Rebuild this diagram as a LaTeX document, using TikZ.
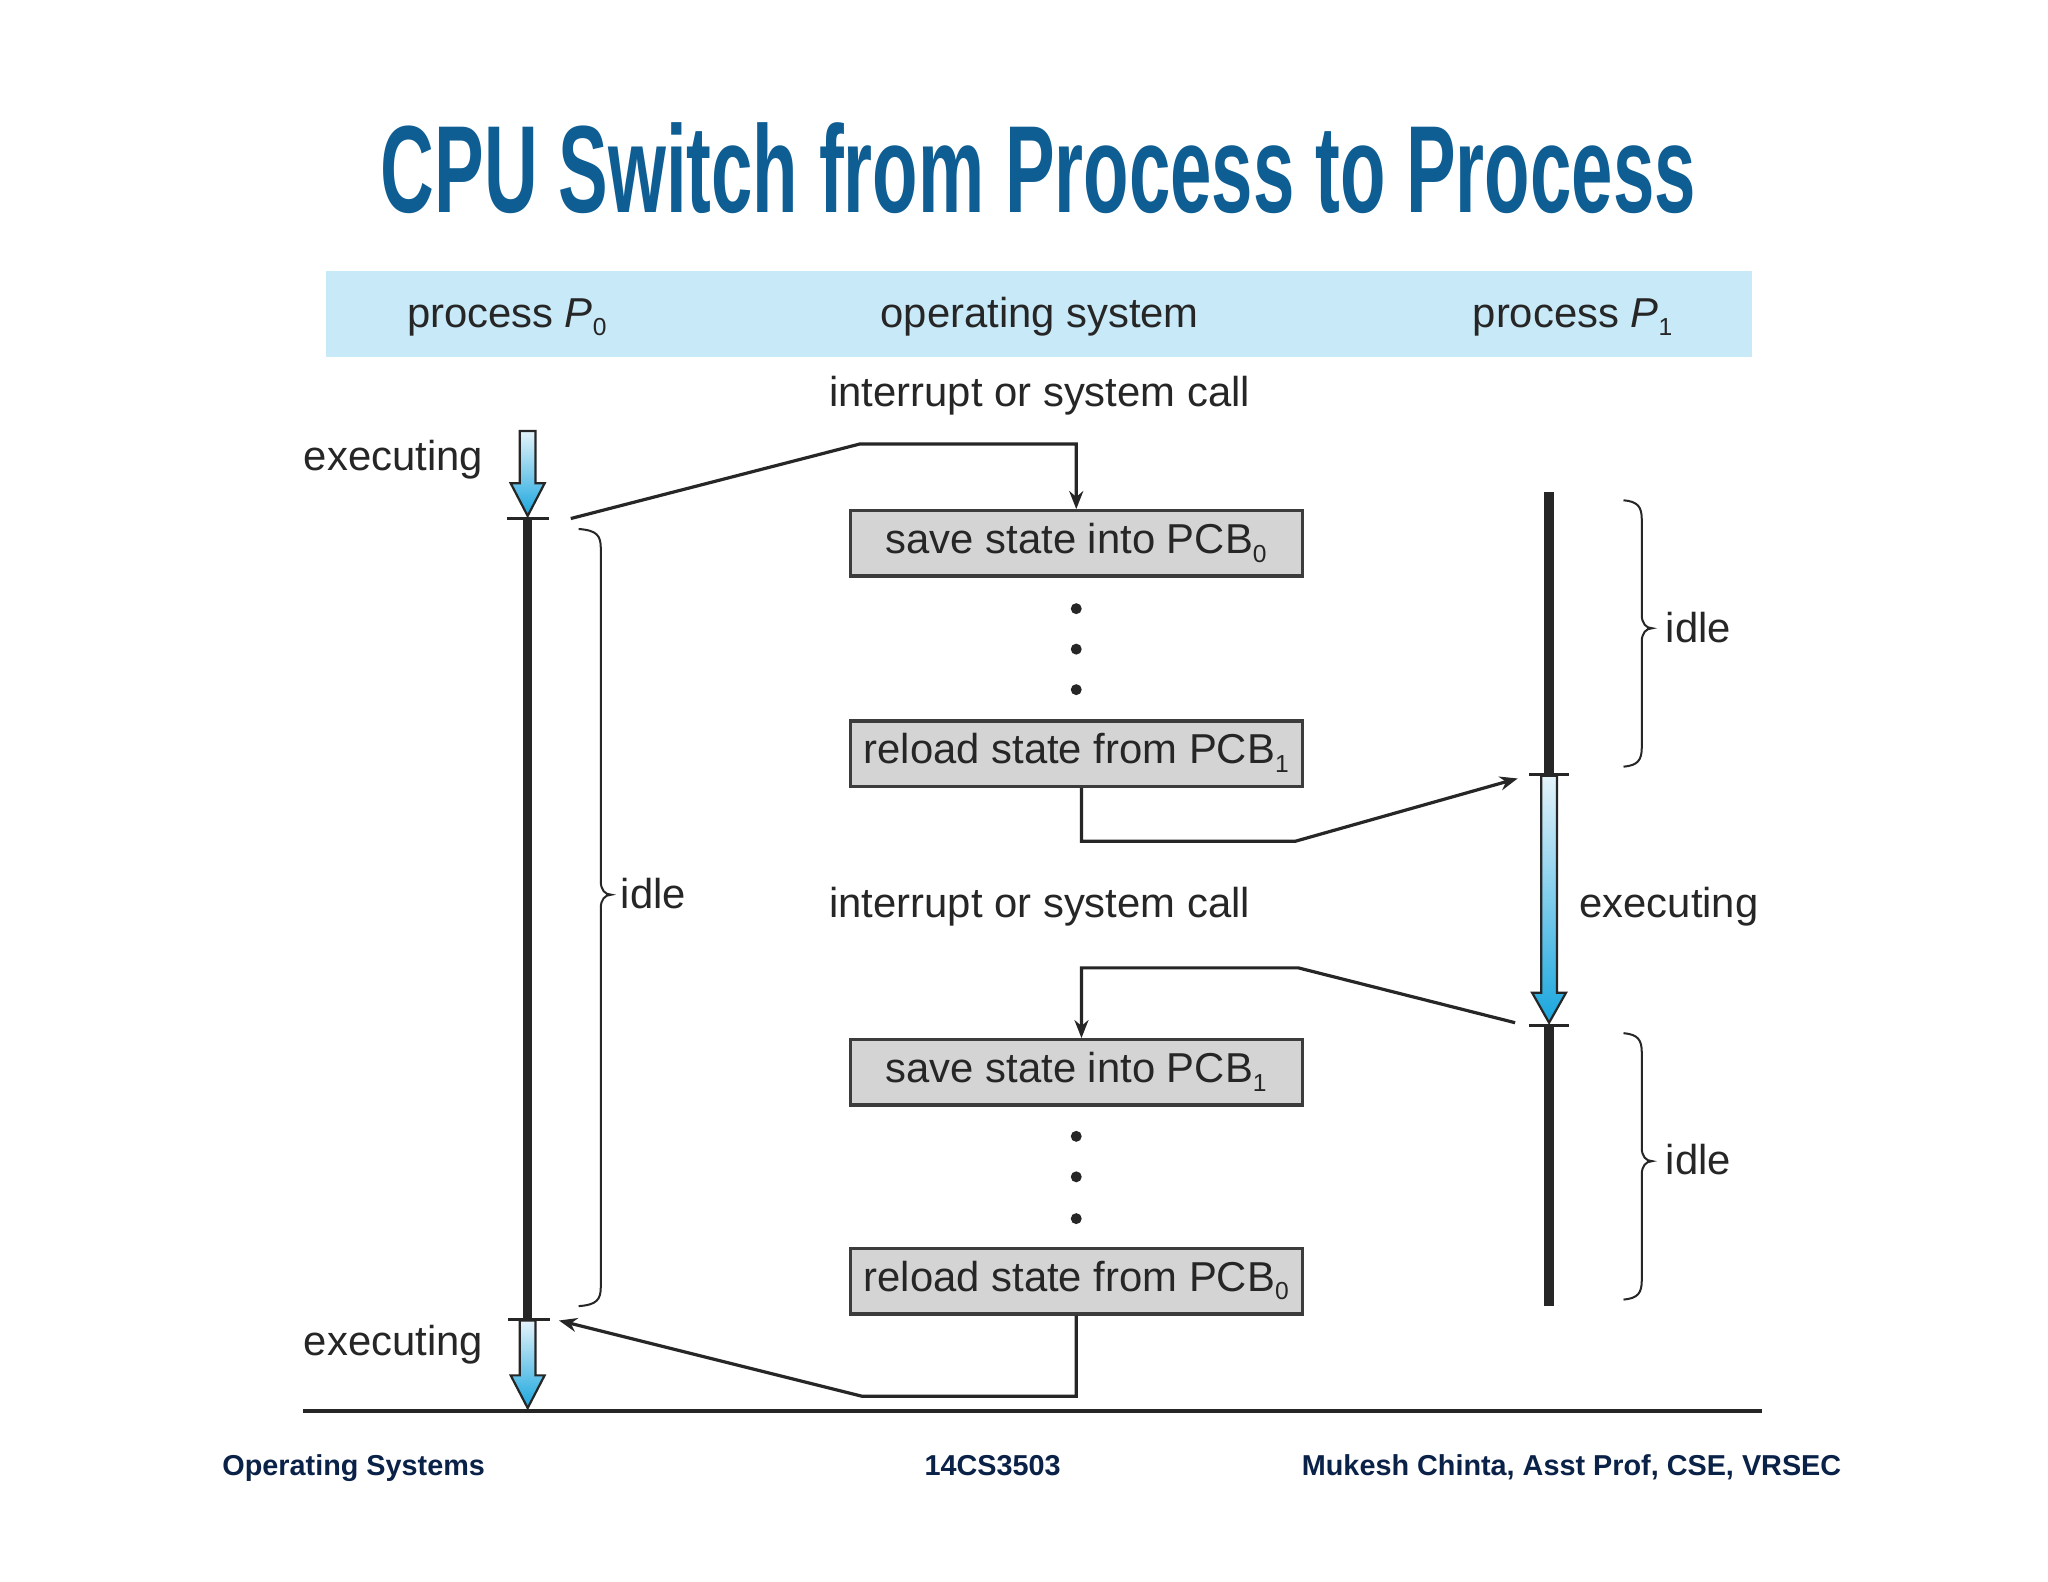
\documentclass[tikz,border=0pt]{standalone}
\usepackage{fontspec}
\setmainfont{Liberation Sans}
\newfontfamily\titlefont[UprightFont={* Bold},FakeStretch=0.6]{Liberation Sans}
\usetikzlibrary{arrows.meta,calc}
\definecolor{titleblue}{HTML}{0E5E93}
\definecolor{band}{HTML}{C8E9F7}
\definecolor{navy}{HTML}{0B2248}
\definecolor{ink}{HTML}{262626}
\definecolor{boxfill}{HTML}{D4D4D4}
\definecolor{boxedge}{HTML}{3C3C3C}
\definecolor{exectop}{HTML}{E4F3FA}
\definecolor{execbot}{HTML}{19A6DE}
\newcommand\sbs[1]{\raisebox{-0.2em}{\fontsize{12.3}{12.3}\selectfont #1}}
\begin{document}
\begin{tikzpicture}[x=0.653pt,y=-0.653pt,
  lbl/.style={text=ink,font=\fontsize{20.9}{25}\selectfont,inner sep=0pt,text height=1.38em,text depth=0pt},
  boxnode/.style={lbl,text height=1.03em,draw=boxedge,fill=boxfill,line width=1.6pt,minimum width=225.9pt,minimum height=32.65pt},
  foot/.style={text=navy,font=\bfseries\fontsize{14.4}{17}\selectfont,inner sep=0pt},
  conn/.style={line width=1.6pt,draw=ink,line join=miter},
  tipped/.style={conn,-{Stealth[length=9pt,width=7pt]}},
  timeline/.style={line width=4.6pt,draw=ink},
  tickline/.style={line width=1.3pt,draw=ink},
  execshape/.style={top color=exectop,bottom color=execbot,draw=ink,line width=1.1pt,line join=miter},
  bracepath/.style={line width=1pt,draw=ink}]

\useasboundingbox[fill=white] (0,0) rectangle (1568,1211);

% title
\node[font=\titlefont\fontsize{62}{70}\selectfont,text=titleblue,anchor=base,inner sep=0pt] (title) at (795,163) {CPU Switch from Process to Process};

% header band
\node[fill=band,minimum width=713.1pt,minimum height=43.1pt,inner sep=0pt,anchor=north west] (band) at (249,207) {};
\node[lbl] (hp0) at (388,240) {process {\itshape P}\sbs{0}};
\node[lbl] (hos) at (796,240) {operating system};
\node[lbl] (hp1) at (1204,240) {process {\itshape P}\sbs{1}};

% interrupt labels
\node[lbl] (int1) at (796,301) {interrupt or system call};
\node[lbl] (int2) at (796,692) {interrupt or system call};

% boxes
\node[boxnode] (b1) at (824,416) {save state into PCB\sbs{0}};
\node[boxnode] (b2) at (824,577) {reload state from PCB\sbs{1}};
\node[boxnode] (b3) at (824,821) {save state into PCB\sbs{1}};
\node[boxnode] (b4) at (824,981) {reload state from PCB\sbs{0}};

% dots
\foreach \yy in {466,497,528,870,901,933} \fill[ink] (824,\yy) circle[radius=4.2];

% P0 timeline
\shade[execshape] (398,330) -- (410,330) -- (410,370) -- (417,370) -- (404,395) -- (391,370) -- (398,370) -- cycle;
\draw[tickline] (388,397) -- (420,397);
\draw[timeline] (404,397) -- (404,1010);
\draw[tickline] (389,1010) -- (421,1010);
\shade[execshape] (398,1011) -- (410,1011) -- (410,1053) -- (417,1053) -- (404,1078) -- (391,1053) -- (398,1053) -- cycle;
\node[lbl,anchor=east] (ex0a) at (370,350) {executing};
\node[lbl,anchor=east] (ex0b) at (370,1027) {executing};

% P1 timeline
\draw[timeline] (1186,377) -- (1186,593);
\draw[tickline] (1171,593) -- (1201,593);
\shade[execshape] (1180,594) -- (1192,594) -- (1192,760) -- (1199,760) -- (1186,783) -- (1173,760) -- (1180,760) -- cycle;
\draw[tickline] (1171,785) -- (1201,785);
\draw[timeline] (1186,785) -- (1186,1000);
\node[lbl,anchor=west] (ex1) at (1209,692) {executing};

% braces
\foreach \xe/\xs/\yt/\ym/\yb in {443/460/405/685/1000, 1243/1257/383/481/587, 1243/1257/791/889/995}
  \draw[bracepath] (\xe,\yt) .. controls (\xs-3,\yt+1) and (\xs,\yt+5) .. (\xs,\yt+15)
     -- (\xs,\ym-10) .. controls (\xs,\ym-4) and (\xs+3,\ym) .. (\xs+8,\ym)
     .. controls (\xs+3,\ym) and (\xs,\ym+4) .. (\xs,\ym+10)
     -- (\xs,\yb-15) .. controls (\xs,\yb-5) and (\xs-3,\yb-1) .. (\xe,\yb);
\node[lbl,anchor=west] (idle0) at (475,685) {idle};
\node[lbl,anchor=west] (idle1) at (1275,481) {idle};
\node[lbl,anchor=west] (idle2) at (1275,889) {idle};

% connector end points
\coordinate (p0out) at (437,397);
\coordinate (p1in) at (1162,596);
\coordinate (p1out) at (1160,783);
\coordinate (p0in) at (428,1011);

% connectors
\draw[tipped] (p0out) -- (658,340) -- (824,340) -- (b1.north);
\draw[tipped] ($(b2.south)+(4,0)$) |- (992,644) -- (p1in);
\draw[tipped] (p1out) -- (994,741) -- (828,741) -- ($(b3.north)+(4,0)$);
\draw[tipped] (b4.south) |- (660,1069) -- (p0in);

% base line
\draw[line width=2pt,draw=ink] (232,1080) -- (1349,1080);

% footer
\node[foot,anchor=base west] (f1) at (170,1130) {Operating Systems};
\node[foot,anchor=base] (f2) at (760,1130) {14CS3503};
\node[foot,anchor=base east] (f3) at (1410,1130) {Mukesh Chinta, Asst Prof, CSE, VRSEC};
\end{tikzpicture}
\end{document}
